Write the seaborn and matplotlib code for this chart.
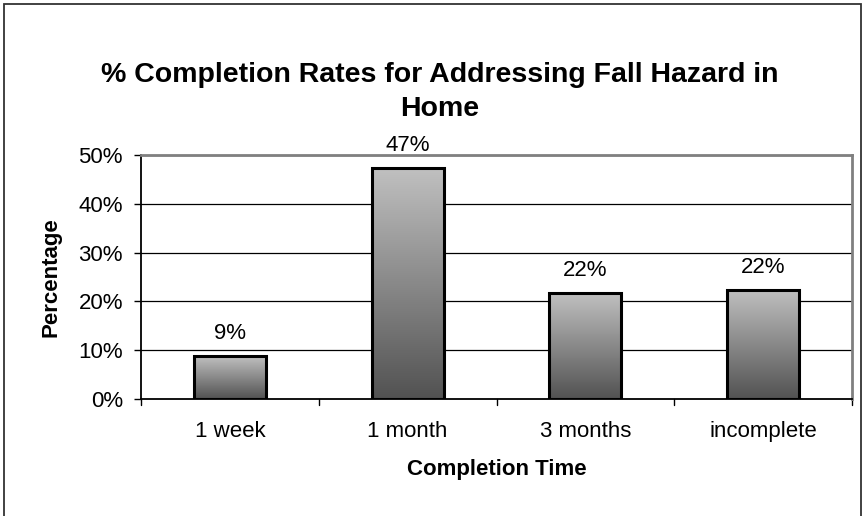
import numpy as np
import pandas as pd
import matplotlib
matplotlib.use("Agg")
import matplotlib.pyplot as plt
import matplotlib.patches as mpatches
from matplotlib.colors import LinearSegmentedColormap
import seaborn as sns

# data
categories = ["1 week", "1 month", "3 months", "incomplete"]
values = [8.8, 47.3, 21.7, 22.4]
labels = ["9%", "47%", "22%", "22%"]
yticks = [0, 10, 20, 30, 40, 50]

df = pd.DataFrame({"time": categories, "pct": values})

sns.set_style("white")
plt.rcParams["font.family"] = ["Liberation Sans", "DejaVu Sans"]
plt.rcParams["text.color"] = "black"
plt.rcParams["axes.labelcolor"] = "black"
plt.rcParams["xtick.color"] = "black"
plt.rcParams["ytick.color"] = "black"

fs = 16

fig = plt.figure(figsize=(8.63, 5.16), dpi=100)
ax = fig.add_axes([141 / 863, 1 - 399 / 516, 711 / 863, 244 / 516])

sns.barplot(data=df, x="time", y="pct", ax=ax, width=0.405,
            color="white", edgecolor="black", linewidth=2.2, zorder=3)

# gradient fill inside each bar (light top, dark bottom)
cmap = LinearSegmentedColormap.from_list("g", ["#525252", "#c0c0c0"])
grad = np.linspace(0, 1, 256).reshape(-1, 1)
for p in ax.patches:
    p.set_facecolor("none")
    x0, y0 = p.get_x(), p.get_y()
    w, h = p.get_width(), p.get_height()
    im = ax.imshow(grad, cmap=cmap, origin="lower", aspect="auto",
                   extent=[x0, x0 + w, y0, y0 + h], zorder=2.5,
                   interpolation="bilinear")
    im.set_clip_path(p)

for i, (v, lab) in enumerate(zip(values, labels)):
    ax.annotate(lab, (i, v), xytext=(0, 16), textcoords="offset points",
                ha="center", va="center", fontsize=fs)

ax.set_xlim(-0.5, 3.5)
ax.set_ylim(0, 50)
ax.set_aspect("auto")
ax.set_yticks(yticks)
ax.set_yticklabels([f"{t}%" for t in yticks], fontsize=fs)
ax.tick_params(axis="x", labelsize=fs, length=0, pad=16)
ax.tick_params(axis="y", length=5, width=1, left=True, pad=8)
for t in yticks[1:]:
    ax.axhline(t, color="black", linewidth=0.9, zorder=1)

# tick marks between categories
for xb in [-0.5, 0.5, 1.5, 2.5, 3.5]:
    ax.plot([xb, xb], [0, -1.2], color="black", linewidth=1, clip_on=False)

ax.set_xlabel("Completion Time", fontsize=fs, fontweight="bold", labelpad=12)
ax.set_ylabel("Percentage", fontsize=fs, fontweight="bold", labelpad=12)

for side in ["top", "right"]:
    ax.spines[side].set_color("#808080")
    ax.spines[side].set_linewidth(2)
for side in ["left", "bottom"]:
    ax.spines[side].set_color("black")
    ax.spines[side].set_linewidth(1.3)
ax.set_axisbelow(True)

fig.text(440 / 863, 1 - 92 / 516,
         "% Completion Rates for Addressing Fall Hazard in\nHome",
         ha="center", va="center", fontsize=20.5, fontweight="bold",
         linespacing=1.35)

# chart area border
fig.patches.append(mpatches.Rectangle((4 / 863, -0.05), 857 / 863, 1.05 - 4 / 516,
                                      transform=fig.transFigure, fill=False,
                                      edgecolor="#333333", linewidth=1.3))

fig.savefig("out.png", dpi=100)
